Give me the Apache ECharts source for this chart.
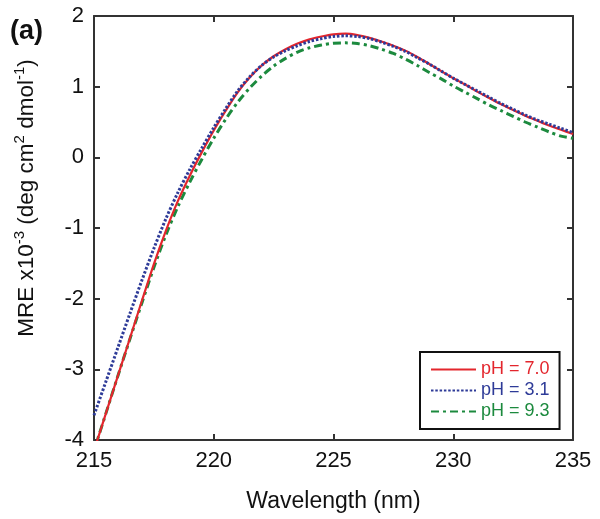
<!DOCTYPE html>
<html>
<head>
<meta charset="utf-8">
<script src="https://cdn.jsdelivr.net/npm/echarts@6/dist/echarts.min.js"></script>
<style>html,body{margin:0;padding:0;background:#fff;}#c{width:600px;height:519px;}</style>
</head>
<body>
<div id="c"></div>
<script>
var wavelength = [215,215.5,216,216.5,217,217.5,218,218.5,219,219.5,220,220.5,221,221.5,222,222.5,223,223.5,224,224.5,225,225.5,226,226.5,227,227.5,228,228.5,229,229.5,230,230.5,231,231.5,232,232.5,233,233.5,234,234.5,235];
var ph70 = [-4.15,-3.62,-3.09,-2.56,-2.03,-1.51,-1.04,-0.62,-0.26,0.07,0.38,0.66,0.92,1.13,1.30,1.43,1.53,1.61,1.67,1.71,1.74,1.75,1.73,1.69,1.64,1.58,1.51,1.42,1.32,1.22,1.12,1.03,0.93,0.84,0.75,0.67,0.59,0.52,0.45,0.39,0.33];
var ph31 = [-3.65,-3.17,-2.69,-2.21,-1.74,-1.29,-0.87,-0.50,-0.17,0.13,0.42,0.69,0.94,1.14,1.30,1.42,1.51,1.58,1.64,1.68,1.71,1.72,1.71,1.68,1.63,1.57,1.50,1.41,1.32,1.22,1.12,1.03,0.94,0.85,0.76,0.68,0.60,0.53,0.47,0.41,0.35];
var ph93 = [-4.15,-3.62,-3.09,-2.57,-2.06,-1.56,-1.10,-0.70,-0.35,-0.03,0.27,0.54,0.78,0.98,1.15,1.29,1.40,1.49,1.55,1.59,1.615,1.62,1.61,1.58,1.53,1.47,1.39,1.30,1.20,1.11,1.01,0.92,0.83,0.74,0.66,0.58,0.50,0.43,0.36,0.30,0.27];
var seriesNames = ['pH = 7.0','pH = 3.1','pH = 9.3'];
var seriesColors = ['#e3262d','#2e3b98','#1c8a3e'];
var xTicks = [215,220,225,230,235];
var yTicks = [-4,-3,-2,-1,0,1,2];

var FONT = 'Liberation Sans, Arial, Helvetica, sans-serif';
function pairs(ys){ return wavelength.map(function(x,i){ return [x, ys[i]]; }); }

var chart = echarts.init(document.getElementById('c'), null, {renderer:'canvas'});
var axisLine = {show:true, onZero:false, lineStyle:{color:'#333', width:2}};
var axisTick = {show:true, inside:true, length:6, lineStyle:{color:'#333', width:2}};
var option = {
  backgroundColor:'#fff',
  animation:false,
  textStyle:{fontFamily:FONT},
  title:{text:'(a)', left:5, top:13, textStyle:{fontFamily:FONT, fontWeight:'bold', fontSize:27, color:'#111'}},
  grid:{left:94, top:16, right:27, bottom:79, containLabel:false},
  legend:{
    orient:'vertical', left:420, top:352, width:142,
    padding:[8,10,8,10], itemGap:2, itemWidth:45, itemHeight:14,
    borderColor:'#111', borderWidth:2, backgroundColor:'#fff',
    itemStyle:{opacity:0},
    textStyle:{fontFamily:FONT, fontSize:18, lineHeight:19},
    data: seriesNames.map(function(n,i){ return {name:n, textStyle:{color:seriesColors[i]}}; })
  },
  xAxis:[
    {type:'value', position:'bottom', min:215, max:235, interval:5,
     name:'Wavelength (nm)', nameLocation:'middle', nameGap:50,
     nameTextStyle:{fontFamily:FONT, fontSize:23, color:'#111'},
     axisLine:axisLine, axisTick:axisTick, splitLine:{show:false},
     axisLabel:{fontFamily:FONT, fontSize:22, color:'#111', margin:10}},
    {type:'value', position:'top', min:215, max:235, interval:5,
     axisLine:axisLine, axisTick:axisTick, splitLine:{show:false}, axisLabel:{show:false}}
  ],
  yAxis:[
    {type:'value', position:'left', min:-4, max:2, interval:1,
     name:'{n|MRE x10}{s|-3}{n| (deg cm}{s|2}{n| dmol}{s|-1}{n|)}', nameLocation:'middle', nameGap:56,
     nameTextStyle:{fontFamily:FONT, color:'#111', padding:[0,0,0,60], rich:{
        n:{fontFamily:FONT, fontSize:22.5, color:'#111', lineHeight:26, verticalAlign:'bottom'},
        s:{fontFamily:FONT, fontSize:15, color:'#111', lineHeight:26, verticalAlign:'top'}}},
     axisLine:axisLine, axisTick:axisTick, splitLine:{show:false},
     axisLabel:{fontFamily:FONT, fontSize:22, color:'#111', margin:10}},
    {type:'value', position:'right', min:-4, max:2, interval:1,
     axisLine:axisLine, axisTick:axisTick, splitLine:{show:false}, axisLabel:{show:false}}
  ],
  series:[
    {name:seriesNames[0], type:'line', data:pairs(ph70), smooth:0.3, symbol:'none', z:3,
     itemStyle:{color:seriesColors[0]}, lineStyle:{color:seriesColors[0], width:2.2}},
    {name:seriesNames[1], type:'line', data:pairs(ph31), smooth:0.3, symbol:'none', z:4,
     itemStyle:{color:seriesColors[1]}, lineStyle:{color:seriesColors[1], width:3, type:[2.5,1.8]}},
    {name:seriesNames[2], type:'line', data:pairs(ph93), smooth:0.3, symbol:'none', z:2,
     itemStyle:{color:seriesColors[2]}, lineStyle:{color:seriesColors[2], width:3, type:[8,4,3,4]}}
  ]
};
chart.setOption(option);
</script>
</body>
</html>
